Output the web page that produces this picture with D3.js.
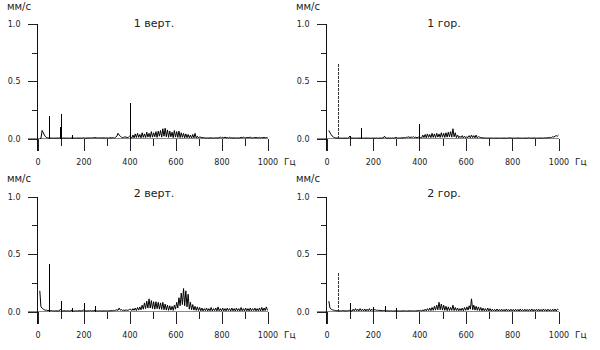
<!DOCTYPE html>
<html>
<head>
<meta charset="utf-8">
<script src="https://cdn.jsdelivr.net/npm/d3@7/dist/d3.min.js"></script>
<style>
  html, body { margin: 0; padding: 0; background: #fff; }
  svg { display: block; }
  text { font-family: "DejaVu Sans", sans-serif; fill: #222; }
</style>
</head>
<body>
<svg id="chart" width="600" height="350"></svg>
<script>
// ---------------- DATA ----------------
const titles = ["1 верт.", "1 гор.", "2 верт.", "2 гор."];
const yUnit = "мм/с";
const xUnit = "Гц";
const xMajorTicks = [0, 200, 400, 600, 800, 1000];
const xMinorTicks = [100, 300, 500, 700, 900];
const yMajorTicks = [0, 0.5, 1.0];
const yMinorTicks = [0.25, 0.75];

// spectrum bins: 10 Hz .. 1000 Hz, 5 Hz apart
const binStart = 10, binStep = 5;

const noise1V = [
  0, 0, 0.07, 0.05, 0.03, 0.015, 0.008, 0.005, 0.004, 0.004,
  0.004, 0.003, 0.004, 0.003, 0.003, 0.004, 0.003, 0.005, 0.01, 0.004,
  0.003, 0.004, 0.003, 0.003, 0.004, 0.003, 0.003, 0.003, 0.006, 0.004,
  0.003, 0.004, 0.003, 0.005, 0.003, 0.004, 0.003, 0.004, 0.006, 0.004,
  0.003, 0.005, 0.004, 0.006, 0.004, 0.007, 0.005, 0.006, 0.008, 0.005,
  0.006, 0.004, 0.007, 0.005, 0.004, 0.006, 0.005, 0.004, 0.006, 0.005,
  0.004, 0.006, 0.005, 0.007, 0.006, 0.005, 0.012, 0.02, 0.045, 0.03,
  0.02, 0.012, 0.008, 0.01, 0.015, 0.012, 0.008, 0.01, 0.02, 0.012,
  0.005, 0.03, 0.006, 0.04, 0.008, 0.045, 0.01, 0.035, 0.006, 0.05,
  0.01, 0.04, 0.008, 0.055, 0.012, 0.045, 0.01, 0.06, 0.012, 0.05,
  0.015, 0.06, 0.01, 0.065, 0.02, 0.07, 0.012, 0.085, 0.02, 0.09,
  0.015, 0.075, 0.01, 0.065, 0.015, 0.055, 0.008, 0.07, 0.012, 0.06,
  0.01, 0.065, 0.008, 0.05, 0.01, 0.045, 0.006, 0.04, 0.008, 0.035,
  0.006, 0.03, 0.005, 0.035, 0.006, 0.045, 0.005, 0.02, 0.004, 0.015,
  0.01, 0.006, 0.008, 0.005, 0.006, 0.004, 0.005, 0.004, 0.006, 0.005,
  0.004, 0.005, 0.004, 0.006, 0.005, 0.004, 0.008, 0.012, 0.006, 0.01,
  0.005, 0.012, 0.006, 0.008, 0.004, 0.01, 0.006, 0.005, 0.004, 0.006,
  0.005, 0.004, 0.006, 0.005, 0.004, 0.01, 0.006, 0.012, 0.008, 0.006,
  0.01, 0.006, 0.008, 0.012, 0.006, 0.005, 0.008, 0.006, 0.01, 0.005,
  0.006, 0.01, 0.005, 0.008, 0.006, 0.01, 0.005, 0.008, 0.01
];
const spikeFreq1V = [50, 98, 100, 150, 400];
const spikeAmp1V  = [0.2, 0.1, 0.21, 0.03, 0.31];

const noise1H = [
  0.07, 0.05, 0.035, 0.02, 0.012, 0.008, 0.005, 0.004, 0.004, 0.003,
  0.003, 0.004, 0.003, 0.003, 0.004, 0.003, 0.003, 0.004, 0.02, 0.004,
  0.003, 0.003, 0.004, 0.003, 0.003, 0.003, 0.004, 0.003, 0.005, 0.004,
  0.003, 0.003, 0.004, 0.003, 0.003, 0.004, 0.003, 0.003, 0.004, 0.003,
  0.003, 0.004, 0.003, 0.003, 0.004, 0.003, 0.004, 0.005, 0.02, 0.005,
  0.003, 0.004, 0.003, 0.004, 0.003, 0.004, 0.003, 0.005, 0.01, 0.004,
  0.004, 0.005, 0.004, 0.006, 0.005, 0.008, 0.006, 0.012, 0.01, 0.015,
  0.008, 0.012, 0.01, 0.015, 0.008, 0.012, 0.006, 0.01, 0.015, 0.008,
  0.005, 0.03, 0.008, 0.035, 0.006, 0.04, 0.01, 0.035, 0.008, 0.045,
  0.01, 0.04, 0.008, 0.045, 0.012, 0.04, 0.01, 0.05, 0.012, 0.045,
  0.01, 0.05, 0.012, 0.055, 0.015, 0.06, 0.012, 0.085, 0.015, 0.05,
  0.008, 0.03, 0.006, 0.02, 0.008, 0.025, 0.005, 0.02, 0.006, 0.015,
  0.008, 0.025, 0.006, 0.03, 0.008, 0.025, 0.006, 0.03, 0.005, 0.015,
  0.012, 0.008, 0.006, 0.005, 0.004, 0.005, 0.004, 0.003, 0.004, 0.003,
  0.004, 0.003, 0.003, 0.004, 0.003, 0.003, 0.004, 0.003, 0.003, 0.004,
  0.003, 0.004, 0.003, 0.003, 0.004, 0.005, 0.006, 0.004, 0.003, 0.004,
  0.003, 0.004, 0.003, 0.005, 0.003, 0.004, 0.003, 0.003, 0.004, 0.003,
  0.004, 0.003, 0.006, 0.004, 0.003, 0.004, 0.003, 0.005, 0.004, 0.003,
  0.004, 0.003, 0.004, 0.005, 0.003, 0.004, 0.006, 0.005, 0.004, 0.008,
  0.006, 0.01, 0.008, 0.015, 0.012, 0.02, 0.025, 0.02, 0.03
];
const spikeFreq1H = [50, 100, 150, 400];
const spikeAmp1H  = [0.66, 0.02, 0.09, 0.13];

const noise2V = [
  0.18, 0.04, 0.03, 0.02, 0.015, 0.01, 0.012, 0.008, 0.01, 0.006,
  0.008, 0.005, 0.006, 0.004, 0.006, 0.005, 0.004, 0.006, 0.02, 0.005,
  0.004, 0.006, 0.005, 0.004, 0.006, 0.005, 0.004, 0.006, 0.012, 0.005,
  0.004, 0.006, 0.005, 0.004, 0.007, 0.005, 0.006, 0.004, 0.015, 0.006,
  0.005, 0.004, 0.006, 0.005, 0.008, 0.005, 0.006, 0.005, 0.012, 0.006,
  0.005, 0.004, 0.006, 0.005, 0.004, 0.005, 0.006, 0.004, 0.006, 0.005,
  0.006, 0.004, 0.008, 0.006, 0.01, 0.008, 0.012, 0.015, 0.01, 0.03,
  0.012, 0.015, 0.01, 0.012, 0.008, 0.015, 0.01, 0.012, 0.018, 0.02,
  0.008, 0.025, 0.01, 0.03, 0.008, 0.035, 0.012, 0.04, 0.015, 0.055,
  0.02, 0.075, 0.025, 0.09, 0.03, 0.11, 0.03, 0.095, 0.025, 0.085,
  0.02, 0.085, 0.025, 0.08, 0.02, 0.075, 0.018, 0.08, 0.015, 0.065,
  0.012, 0.055, 0.01, 0.05, 0.012, 0.045, 0.01, 0.055, 0.02, 0.08,
  0.03, 0.12, 0.05, 0.16, 0.06, 0.2, 0.05, 0.18, 0.04, 0.15,
  0.02, 0.08, 0.015, 0.06, 0.012, 0.045, 0.01, 0.04, 0.008, 0.035,
  0.006, 0.03, 0.005, 0.025, 0.008, 0.03, 0.005, 0.025, 0.006, 0.035,
  0.005, 0.025, 0.008, 0.03, 0.005, 0.04, 0.006, 0.025, 0.005, 0.03,
  0.006, 0.025, 0.005, 0.03, 0.008, 0.025, 0.005, 0.03, 0.006, 0.025,
  0.005, 0.03, 0.006, 0.025, 0.005, 0.035, 0.006, 0.025, 0.005, 0.03,
  0.006, 0.025, 0.005, 0.03, 0.006, 0.025, 0.008, 0.03, 0.005, 0.025,
  0.006, 0.03, 0.005, 0.035, 0.006, 0.03, 0.008, 0.04, 0.01
];
const spikeFreq2V = [50, 100, 150, 200, 250];
const spikeAmp2V  = [0.41, 0.09, 0.03, 0.07, 0.05];

const noise2H = [
  0.09, 0.03, 0.02, 0.015, 0.012, 0.01, 0.008, 0.006, 0.008, 0.005,
  0.006, 0.005, 0.008, 0.006, 0.005, 0.006, 0.005, 0.008, 0.01, 0.005,
  0.004, 0.02, 0.005, 0.025, 0.006, 0.02, 0.005, 0.025, 0.006, 0.02,
  0.005, 0.022, 0.004, 0.02, 0.006, 0.025, 0.005, 0.02, 0.008, 0.015,
  0.015, 0.01, 0.012, 0.008, 0.01, 0.008, 0.006, 0.008, 0.01, 0.006,
  0.005, 0.006, 0.004, 0.005, 0.006, 0.004, 0.005, 0.004, 0.006, 0.005,
  0.004, 0.005, 0.004, 0.005, 0.004, 0.006, 0.005, 0.004, 0.005, 0.006,
  0.005, 0.004, 0.006, 0.005, 0.004, 0.006, 0.005, 0.008, 0.006, 0.01,
  0.004, 0.015, 0.005, 0.02, 0.006, 0.025, 0.008, 0.03, 0.008, 0.035,
  0.01, 0.045, 0.012, 0.055, 0.015, 0.08, 0.015, 0.065, 0.012, 0.055,
  0.01, 0.045, 0.008, 0.04, 0.008, 0.035, 0.01, 0.055, 0.008, 0.035,
  0.008, 0.03, 0.006, 0.025, 0.008, 0.03, 0.006, 0.035, 0.01, 0.04,
  0.012, 0.05, 0.02, 0.11, 0.015, 0.055, 0.012, 0.045, 0.01, 0.04,
  0.008, 0.035, 0.006, 0.03, 0.006, 0.025, 0.005, 0.03, 0.005, 0.025,
  0.004, 0.02, 0.005, 0.018, 0.004, 0.022, 0.005, 0.018, 0.004, 0.02,
  0.005, 0.018, 0.004, 0.022, 0.005, 0.018, 0.004, 0.02, 0.005, 0.018,
  0.004, 0.02, 0.005, 0.018, 0.004, 0.022, 0.005, 0.018, 0.004, 0.02,
  0.005, 0.018, 0.004, 0.02, 0.005, 0.022, 0.004, 0.018, 0.005, 0.02,
  0.004, 0.02, 0.005, 0.018, 0.004, 0.022, 0.005, 0.018, 0.004, 0.02,
  0.005, 0.018, 0.004, 0.02, 0.005, 0.022, 0.004, 0.02, 0.015
];
const spikeFreq2H = [50, 100, 200, 250, 300];
const spikeAmp2H  = [0.34, 0.07, 0.04, 0.05, 0.03];

// ---------------- DRAWING ----------------
const panels = [
  { title: titles[0], noise: noise1V, sf: spikeFreq1V, sa: spikeAmp1V, horiz: false },
  { title: titles[1], noise: noise1H, sf: spikeFreq1H, sa: spikeAmp1H, horiz: true },
  { title: titles[2], noise: noise2V, sf: spikeFreq2V, sa: spikeAmp2V, horiz: false },
  { title: titles[3], noise: noise2H, sf: spikeFreq2H, sa: spikeAmp2H, horiz: true }
];

const colLayout = [ { left: 37.5, right: 267.5 }, { left: 326.5, right: 558.5 } ];
const rowLayout = [ { top: 24, bottom: 138.5, titleY: 27.3 }, { top: 196.5, bottom: 311.5, titleY: 196.7 } ];

const svg = d3.select("#chart");
svg.append("rect").attr("width", 600).attr("height", 350).attr("fill", "#fff");

panels.forEach((p, i) => {
  const col = colLayout[i % 2];
  const row = rowLayout[Math.floor(i / 2)];
  const x = d3.scaleLinear().domain([0, 1000]).range([col.left, col.right]);
  const y = d3.scaleLinear().domain([0, 1]).range([row.bottom, row.top]);
  const g = svg.append("g");

  // zero baseline (grey)
  g.append("line")
    .attr("x1", col.left - 10).attr("x2", col.right)
    .attr("y1", y(0)).attr("y2", y(0))
    .attr("stroke", "#8a8a8a").attr("stroke-width", 1)
    .attr("shape-rendering", "crispEdges");

  // x axis major
  const xMaj = d3.axisBottom(x).tickValues(xMajorTicks).tickSize(12).tickPadding(9).tickFormat(d3.format("d"));
  const gxMaj = g.append("g").attr("transform", `translate(0,${y(0)})`).call(xMaj);
  gxMaj.select(".domain").remove();
  const xMin = d3.axisBottom(x).tickValues(xMinorTicks).tickSize(7).tickFormat("");
  const gxMin = g.append("g").attr("transform", `translate(0,${y(0)})`).call(xMin);
  gxMin.select(".domain").remove();

  // y axis
  const yMaj = d3.axisLeft(y).tickValues(yMajorTicks).tickSize(10).tickPadding(7).tickFormat(d3.format(".1f"));
  const gyMaj = g.append("g").attr("transform", `translate(${col.left},0)`).call(yMaj);
  gyMaj.select(".domain").remove();
  const yMin = d3.axisLeft(y).tickValues(yMinorTicks).tickSize(6).tickFormat("");
  const gyMin = g.append("g").attr("transform", `translate(${col.left},0)`).call(yMin);
  gyMin.select(".domain").remove();

  g.append("line")
    .attr("x1", col.left).attr("x2", col.left)
    .attr("y1", y(1)).attr("y2", y(0) + 12)
    .attr("stroke", "#111").attr("shape-rendering", "crispEdges");

  g.selectAll(".tick line").attr("stroke", "#222").attr("shape-rendering", "crispEdges");
  g.selectAll(".tick text").attr("font-size", 8).attr("font-family", "DejaVu Sans, sans-serif").attr("fill", "#222");

  // units
  g.append("text").attr("x", col.left - 30.5).attr("y", row.top - 14.5)
    .attr("font-size", 10).text(yUnit);
  g.append("text").attr("x", col.right + 16.5).attr("y", y(0) + 26)
    .attr("font-size", 9).text(xUnit);

  // title
  g.append("text").attr("x", (col.left + col.right) / 2 + 1.5).attr("y", row.titleY)
    .attr("text-anchor", "middle").attr("font-size", 11).text(p.title);

  // spectrum
  const pts = p.noise.map((v, k) => [binStart + k * binStep, v]);
  const line = d3.line().x(d => x(d[0])).y(d => y(d[1]));
  g.append("path").datum(pts)
    .attr("d", line)
    .attr("fill", "none").attr("stroke", "#000").attr("stroke-width", 1);

  // discrete spectral lines
  p.sf.forEach((f, k) => {
    const dashed = p.horiz && f === 50;
    g.append("line")
      .attr("x1", Math.round(x(f)) + 0.5).attr("x2", Math.round(x(f)) + 0.5)
      .attr("y1", y(0)).attr("y2", y(p.sa[k]))
      .attr("stroke", dashed ? "#333" : "#000")
      .attr("stroke-width", 1)
      .attr("stroke-dasharray", dashed ? "3,1" : null)
      .attr("shape-rendering", "crispEdges");
  });
});
</script>
</body>
</html>
